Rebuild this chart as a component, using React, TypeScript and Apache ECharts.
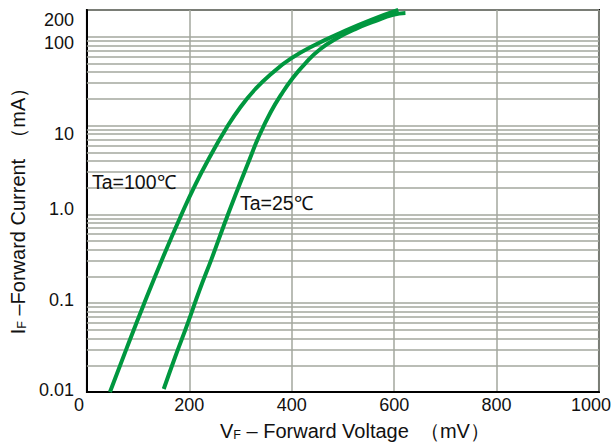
import React, { useEffect, useRef } from 'react';
import * as echarts from 'echarts';

// Ta = 100°C curve: forward voltage (mV) vs forward current (mA)
const vf100 = [45, 76, 111, 150, 183, 212, 242, 271, 300, 329, 359, 398, 446, 505, 554, 608];
const if100 = [0.01, 0.0294, 0.0966, 0.344, 0.948, 2.18, 4.66, 9.1, 16.2, 25.8, 37.8, 56.6, 81.3, 117, 154, 200];

// Ta = 25°C curve
const vf25 = [150, 173, 197, 220, 244, 267, 290, 314, 337, 359, 380, 402, 427, 456, 489, 524, 563, 598, 622];
const if25 = [0.0108, 0.0254, 0.0597, 0.1406, 0.322, 0.74, 1.65, 3.69, 7.82, 14.2, 22.6, 34.3, 50.6, 72.8, 96.8, 122, 150, 176, 185];

const xTickLabels = ['0', '200', '400', '600', '800', '1000'];
const yTickValues = [0.01, 0.1, 1, 10, 100, 200];
const yTickLabels = ['0.01', '0.1', '1.0', '10', '100', '200'];
const minorGridValues = [
  0.02, 0.03, 0.04, 0.05, 0.06, 0.07, 0.08, 0.09,
  0.2, 0.3, 0.4, 0.5, 0.6, 0.7, 0.8, 0.9,
  2, 3, 4, 5, 6, 7, 8, 9,
  20, 30, 40, 50, 60, 70, 80, 90,
];
const seriesNames = ['Ta=100℃', 'Ta=25℃'];

// label vertical shifts (px, positive = down) to mimic the reference placement
const yLabelShift = [-2, -3, -5, 8, 6, 10];

const GREEN = '#00973f';
const GRID = '#a3a79e';
const FONT = '"Liberation Sans", Arial, sans-serif';

export default function App() {
  const ref = useRef<HTMLDivElement>(null);
  useEffect(() => {
    if (!ref.current) return;
    const chart = echarts.init(ref.current, undefined, { renderer: 'svg' });

    const yRich: Record<string, any> = {};
    yLabelShift.forEach((s, i) => {
      yRich['t' + i] = {
        fontSize: 18,
        fontFamily: FONT,
        color: '#111',
        padding: s >= 0 ? [2 * s, 0, 0, 0] : [0, 0, -2 * s, 0],
      };
    });

    const xRich: Record<string, any> = {
      n: { fontSize: 18, fontFamily: FONT, color: '#111' },
      first: { fontSize: 18, fontFamily: FONT, color: '#111', padding: [0, 16, 0, 0] },
      last: { fontSize: 18, fontFamily: FONT, color: '#111', padding: [0, 16, 0, 0] },
    };

    const base = { fontSize: 20, fontFamily: FONT, color: '#111' };
    const xNameRich = {
      a: { ...base, padding: [0, 0, 0, 24] },
      n: base,
      s: { fontSize: 12.5, fontFamily: FONT, color: '#111', verticalAlign: 'bottom', padding: [6, 0, 0, 0] },
    };
    const yNameRich = {
      n: base,
      e: { ...base, padding: [0, 10, 0, 0] },
      s: { fontSize: 12.5, fontFamily: FONT, color: '#111', verticalAlign: 'bottom', padding: [6, 0, 0, 0] },
    };

    const makeLine = (name: string, xs: number[], ys: number[], withGrid: boolean) => ({
      name,
      type: 'line',
      data: xs.map((x, i) => [x, ys[i]]),
      showSymbol: false,
      smooth: 0.5,
      lineStyle: { color: GREEN, width: 4 },
      itemStyle: { color: GREEN },
      z: 5,
      markLine: withGrid
        ? {
            silent: true,
            symbol: 'none',
            label: { show: false },
            lineStyle: { color: GRID, width: 1.5, type: 'solid' },
            emphasis: { disabled: true },
            data: minorGridValues.map((v) => ({ yAxis: v })),
            z: 1,
          }
        : undefined,
    });

    chart.setOption({
      animation: false,
      backgroundColor: '#fff',
      grid: {
        left: 86,
        right: 15,
        top: 10,
        bottom: 55,
        show: true,
        borderColor: '#000',
        borderWidth: 2,
        backgroundColor: 'transparent',
      },
      xAxis: {
        type: 'value',
        min: 0,
        max: 1000,
        interval: 200,
        name: '{a|V}{s|F}{n| – Forward Voltage  （mV）}',
        nameLocation: 'middle',
        nameGap: 29,
        nameTextStyle: { rich: xNameRich },
        axisLine: { show: true, lineStyle: { color: '#000', width: 2 } },
        axisTick: { show: false },
        splitLine: { show: true, lineStyle: { color: GRID, width: 1.5 } },
        axisLabel: {
          margin: 4,
          formatter: (v: number) => {
            const i = Math.round(v / 200);
            const lbl = xTickLabels[i] ?? String(v);
            if (i === 0) return '{first|' + lbl + '}';
            if (i === xTickLabels.length - 1) return '{last|' + lbl + '}';
            return '{n|' + lbl + '}';
          },
          rich: xRich,
        },
      },
      yAxis: {
        type: 'log',
        logBase: 10,
        min: 0.01,
        max: 200,
        name: '{n|I}{s|F}{e| –Forward Current  （mA）}',
        nameLocation: 'middle',
        nameGap: 57,
        nameTextStyle: { rich: yNameRich },
        axisLine: { show: true, lineStyle: { color: '#000', width: 2 } },
        axisTick: { show: false },
        splitLine: { show: true, lineStyle: { color: GRID, width: 1.5 } },
        minorSplitLine: { show: false },
        axisLabel: {
          margin: 13,
          showMaxLabel: true,
          showMinLabel: true,
          formatter: (v: number) => {
            let idx = -1;
            yTickValues.forEach((t, i) => {
              if (Math.abs(Math.log10(v) - Math.log10(t)) < 1e-3) idx = i;
            });
            if (idx < 0) return '';
            return '{t' + idx + '|' + yTickLabels[idx] + '}';
          },
          rich: yRich,
        },
      },
      graphic: [
        {
          type: 'text',
          left: 92,
          top: 172,
          style: { text: seriesNames[0], fontSize: 19.5, fontFamily: FONT, fill: '#111' },
          z: 10,
        },
        {
          type: 'text',
          left: 240,
          top: 193,
          style: { text: seriesNames[1], fontSize: 19.5, fontFamily: FONT, fill: '#111' },
          z: 10,
        },
      ],
      series: [
        makeLine(seriesNames[0], vf100, if100, true),
        makeLine(seriesNames[1], vf25, if25, false),
      ],
    });
    return () => chart.dispose();
  }, []);

  return (
    <div
      ref={ref}
      style={{ position: 'fixed', left: 0, top: 0, width: 614, height: 447, background: '#fff' }}
    />
  );
}
